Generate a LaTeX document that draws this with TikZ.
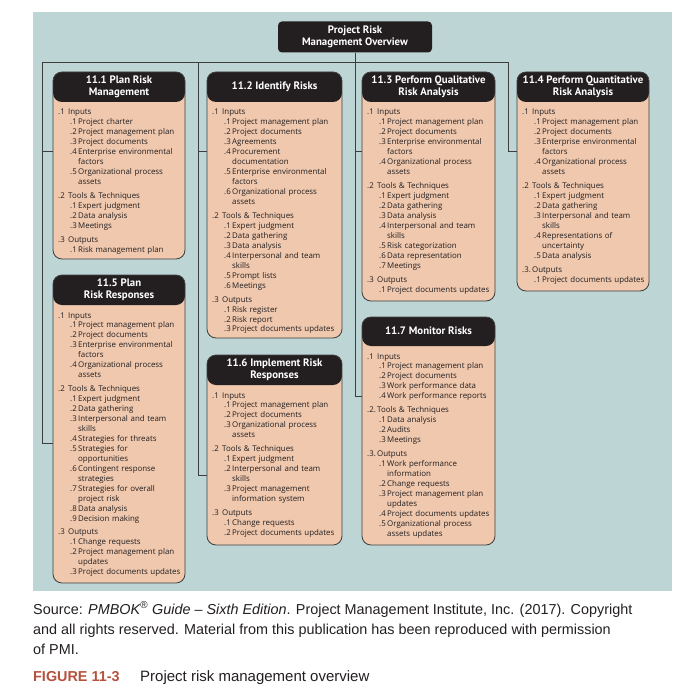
\documentclass[tikz,border=0pt]{standalone}
\usepackage{fontspec}
\setmainfont{Liberation Sans}
\newfontfamily\boxfont{Open Sans}
\newfontfamily\headfont{PT Sans}
\definecolor{bgteal}{RGB}{190,213,214}
\definecolor{salmon}{RGB}{239,200,174}
\definecolor{hdblack}{RGB}{35,31,32}
\definecolor{lncol}{RGB}{60,62,62}
\definecolor{figred}{RGB}{181,82,60}
\definecolor{captxt}{RGB}{35,31,32}
\newcommand\Lsec[2]{\makebox[10bp][l]{#1}#2}
\newcommand\Litem[2]{\hspace*{12bp}\makebox[8bp][l]{#1}#2}
\newcommand\Lcont[1]{\hspace*{20bp}#1}
\tikzset{
  proc/.style={draw=lncol, line width=0.8bp, fill=salmon, rounded corners=9bp,
    anchor=north west, inner sep=0pt, outer sep=0pt},
  hdr/.style={path picture={\fill[hdblack] (path picture bounding box.north west) rectangle ([yshift=-#1]path picture bounding box.north east);}},
  hdtext/.style={text=white, font=\headfont\bfseries\fontsize{10.8bp}{12.3bp}\selectfont, align=center, inner sep=0pt},
  bodytxt/.style={anchor=base west, text width=130bp, align=left, inner sep=0pt,
    font=\boxfont\fontsize{7.9bp}{9.95bp}\selectfont, text=hdblack},
  ovbox/.style={fill=hdblack, rounded corners=4bp, minimum width=154bp, minimum height=31bp,
    text=white, font=\headfont\bfseries\fontsize{10.8bp}{12bp}\selectfont, align=center, inner sep=0pt},
  conn/.style={draw=lncol, line width=0.8bp},
  captext/.style={anchor=base west, inner sep=0pt, text=captxt, font=\fontsize{14.4bp}{17bp}\selectfont}
}
\begin{document}
\begin{tikzpicture}[x=1bp, y=-1bp]
\useasboundingbox (0,0) rectangle (681,699);
\fill[bgteal] (33,12) rectangle (672,591);
% overview
\node[ovbox] (ov) at (355,37) {Project Risk\\Management Overview};
% coordinates
\coordinate (bar1) at (42,62);
\coordinate (bar2) at (198,62);
\coordinate (bar4) at (508,62);
\coordinate (r1) at (0,151);
\coordinate (r5) at (0,443);
\coordinate (r6) at (0,475);
\coordinate (r7) at (0,396);
% boxes
\node[proc, hdr=30bp, minimum width=132bp, minimum height=187bp] (p11) at (53,72) {};
\node[proc, hdr=30bp, minimum width=135bp, minimum height=266bp] (p12) at (207,72) {};
\node[proc, hdr=30bp, minimum width=133bp, minimum height=229bp] (p13) at (362,72) {};
\node[proc, hdr=30bp, minimum width=132bp, minimum height=219bp] (p14) at (517,72) {};
\node[proc, hdr=30bp, minimum width=132bp, minimum height=308bp] (p15) at (53,275) {};
\node[proc, hdr=30bp, minimum width=135bp, minimum height=190bp] (p16) at (207,355) {};
\node[proc, hdr=29bp, minimum width=133bp, minimum height=228bp] (p17) at (362,317) {};
% connectors
\draw[conn] (bar1) -- (bar4);
\draw[conn] (ov.south) -- (ov.south |- r7) -- (p17.west |- r7);
\draw[conn] (ov.south |- r1) -- (p13.west |- r1);
\draw[conn] (bar1) -- (bar1 |- r5) -- (p15.west |- r5);
\draw[conn] (bar1 |- r1) -- (p11.west |- r1);
\draw[conn] (bar2) -- (bar2 |- r6) -- (p16.west |- r6);
\draw[conn] (bar2 |- r1) -- (p12.west |- r1);
\draw[conn] (bar4) -- (bar4 |- r1) -- (p14.west |- r1);
% headers
\node[hdtext] (h11) at (119,87) {11.1 Plan Risk\\Management};
\node[hdtext] (h12) at (274.5,87) {11.2 Identify Risks};
\node[hdtext] (h13) at (428.5,87) {11.3 Perform Qualitative\\Risk Analysis};
\node[hdtext] (h14) at (583,87) {11.4 Perform Quantitative\\Risk Analysis};
\node[hdtext] (h15) at (119,290) {11.5 Plan\\Risk Responses};
\node[hdtext] (h16) at (274.5,370) {11.6 Implement Risk\\Responses};
\node[hdtext] (h17) at (428.5,331) {11.7 Monitor Risks};
% bodies
\node[bodytxt] (t11) at (58,115) {%
\Lsec{.1}{Inputs}\\
\Litem{.1}{Project charter}\\
\Litem{.2}{Project management plan}\\
\Litem{.3}{Project documents}\\
\Litem{.4}{Enterprise environmental}\\
\Lcont{factors}\\
\Litem{.5}{Organizational process}\\
\Lcont{assets}\\[4bp]
\Lsec{.2}{Tools \& Techniques}\\
\Litem{.1}{Expert judgment}\\
\Litem{.2}{Data analysis}\\
\Litem{.3}{Meetings}\\[4bp]
\Lsec{.3}{Outputs}\\
\Litem{.1}{Risk management plan}};
\node[bodytxt] (t12) at (212,115) {%
\Lsec{.1}{Inputs}\\
\Litem{.1}{Project management plan}\\
\Litem{.2}{Project documents}\\
\Litem{.3}{Agreements}\\
\Litem{.4}{Procurement}\\
\Lcont{documentation}\\
\Litem{.5}{Enterprise environmental}\\
\Lcont{factors}\\
\Litem{.6}{Organizational process}\\
\Lcont{assets}\\[4bp]
\Lsec{.2}{Tools \& Techniques}\\
\Litem{.1}{Expert judgment}\\
\Litem{.2}{Data gathering}\\
\Litem{.3}{Data analysis}\\
\Litem{.4}{Interpersonal and team}\\
\Lcont{skills}\\
\Litem{.5}{Prompt lists}\\
\Litem{.6}{Meetings}\\[4bp]
\Lsec{.3}{Outputs}\\
\Litem{.1}{Risk register}\\
\Litem{.2}{Risk report}\\
\Litem{.3}{Project documents updates}};
\node[bodytxt] (t13) at (367,115) {%
\Lsec{.1}{Inputs}\\
\Litem{.1}{Project management plan}\\
\Litem{.2}{Project documents}\\
\Litem{.3}{Enterprise environmental}\\
\Lcont{factors}\\
\Litem{.4}{Organizational process}\\
\Lcont{assets}\\[4bp]
\Lsec{.2}{Tools \& Techniques}\\
\Litem{.1}{Expert judgment}\\
\Litem{.2}{Data gathering}\\
\Litem{.3}{Data analysis}\\
\Litem{.4}{Interpersonal and team}\\
\Lcont{skills}\\
\Litem{.5}{Risk categorization}\\
\Litem{.6}{Data representation}\\
\Litem{.7}{Meetings}\\[4bp]
\Lsec{.3}{Outputs}\\
\Litem{.1}{Project documents updates}};
\node[bodytxt] (t14) at (522,115) {%
\Lsec{.1}{Inputs}\\
\Litem{.1}{Project management plan}\\
\Litem{.2}{Project documents}\\
\Litem{.3}{Enterprise environmental}\\
\Lcont{factors}\\
\Litem{.4}{Organizational process}\\
\Lcont{assets}\\[4bp]
\Lsec{.2}{Tools \& Techniques}\\
\Litem{.1}{Expert judgment}\\
\Litem{.2}{Data gathering}\\
\Litem{.3}{Interpersonal and team}\\
\Lcont{skills}\\
\Litem{.4}{Representations of}\\
\Lcont{uncertainty}\\
\Litem{.5}{Data analysis}\\[4bp]
\Lsec{.3.}{Outputs}\\
\Litem{.1}{Project documents updates}};
\node[bodytxt] (t15) at (58,318) {%
\Lsec{.1}{Inputs}\\
\Litem{.1}{Project management plan}\\
\Litem{.2}{Project documents}\\
\Litem{.3}{Enterprise environmental}\\
\Lcont{factors}\\
\Litem{.4}{Organizational process}\\
\Lcont{assets}\\[4bp]
\Lsec{.2}{Tools \& Techniques}\\
\Litem{.1}{Expert judgment}\\
\Litem{.2}{Data gathering}\\
\Litem{.3}{Interpersonal and team}\\
\Lcont{skills}\\
\Litem{.4}{Strategies for threats}\\
\Litem{.5}{Strategies for}\\
\Lcont{opportunities}\\
\Litem{.6}{Contingent response}\\
\Lcont{strategies}\\
\Litem{.7}{Strategies for overall}\\
\Lcont{project risk}\\
\Litem{.8}{Data analysis}\\
\Litem{.9}{Decision making}\\[4bp]
\Lsec{.3}{Outputs}\\
\Litem{.1}{Change requests}\\
\Litem{.2}{Project management plan}\\
\Lcont{updates}\\
\Litem{.3}{Project documents updates}};
\node[bodytxt] (t16) at (212,398) {%
\Lsec{.1}{Inputs}\\
\Litem{.1}{Project management plan}\\
\Litem{.2}{Project documents}\\
\Litem{.3}{Organizational process}\\
\Lcont{assets}\\[4bp]
\Lsec{.2}{Tools \& Techniques}\\
\Litem{.1}{Expert judgment}\\
\Litem{.2}{Interpersonal and team}\\
\Lcont{skills}\\
\Litem{.3}{Project management}\\
\Lcont{information system}\\[4bp]
\Lsec{.3}{Outputs}\\
\Litem{.1}{Change requests}\\
\Litem{.2}{Project documents updates}};
\node[bodytxt] (t17) at (367,359) {%
\Lsec{.1}{Inputs}\\
\Litem{.1}{Project management plan}\\
\Litem{.2}{Project documents}\\
\Litem{.3}{Work performance data}\\
\Litem{.4}{Work performance reports}\\[4bp]
\Lsec{.2.}{Tools \& Techniques}\\
\Litem{.1}{Data analysis}\\
\Litem{.2}{Audits}\\
\Litem{.3}{Meetings}\\[4bp]
\Lsec{.3.}{Outputs}\\
\Litem{.1}{Work performance}\\
\Lcont{information}\\
\Litem{.2}{Change requests}\\
\Litem{.3}{Project management plan}\\
\Lcont{updates}\\
\Litem{.4}{Project documents updates}\\
\Litem{.5}{Organizational process}\\
\Lcont{assets updates}};
% caption
\node[captext] (src1) at (33,614) {Source: \textit{PMBOK\textsuperscript{®} Guide – Sixth Edition}. Project Management Institute, Inc. (2017). Copyright};
\node[captext] (src2) at (33,634) {and all rights reserved. Material from this publication has been reproduced with permission};
\node[captext] (src3) at (33,654) {of PMI.};
\node[captext, text=figred, font=\bfseries\fontsize{14.4bp}{17bp}\selectfont] (fig) at (33,681) {FIGURE 11-3};
\node[captext, font=\fontsize{15bp}{17bp}\selectfont] (figt) at (140,681) {Project risk management overview};
\end{tikzpicture}
\end{document}
